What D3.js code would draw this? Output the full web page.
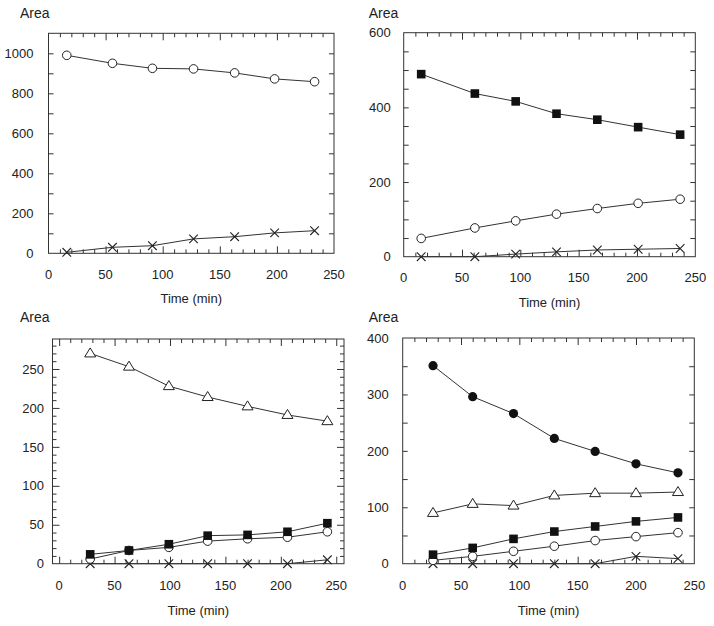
<!DOCTYPE html>
<html>
<head>
<meta charset="utf-8">
<script src="https://cdn.jsdelivr.net/npm/d3@7/dist/d3.min.js"></script>
<style>
  body { margin: 0; background: #fff; }
  svg { display: block; }
  text { font-family: "Liberation Sans", Arial, Helvetica, sans-serif; fill: #222; }
</style>
</head>
<body>
<svg id="chart" width="714" height="626"></svg>
<script>
// ---- Data ----
const xLabel = "Time (min)";
const yLabel = "Area";

// Panel A (top-left)
const aTime   = [16, 56, 91, 127, 163, 198, 233];
const aCircle = [990, 950, 925, 922, 902, 872, 858];
const aCross  = [5, 30, 38, 72, 83, 102, 113];
const aYTicks = [0, 200, 400, 600, 800, 1000];

// Panel B (top-right)
const bTime   = [15, 61, 96, 131, 166, 201, 237];
const bSquare = [489, 437, 416, 383, 367, 347, 327];
const bCircle = [49, 77, 96, 114, 129, 143, 154];
const bCross  = [0, 0, 7, 13, 18, 20, 22];
const bYTicks = [0, 200, 400, 600];

// Panel C (bottom-left)
const cTime     = [28, 63, 99, 134, 170, 206, 242];
const cTriangle = [270, 253, 228, 214, 202, 191, 183];
const cSquare   = [12, 17, 25, 36, 37, 41, 52];
const cCircle   = [6, 17, 21, 29, 32, 34, 41];
const cCross    = [0, 0, 0, 0, 0, 0, 5];
const cYTicks   = [0, 50, 100, 150, 200, 250];

// Panel D (bottom-right)
const dTime     = [26, 60, 95, 130, 165, 200, 236];
const dDot      = [351, 296, 266, 222, 199, 177, 161];
const dTriangle = [90, 106, 103, 121, 125, 125, 127];
const dSquare   = [16, 28, 44, 57, 66, 75, 82];
const dCircle   = [6, 13, 22, 31, 41, 48, 55];
const dCross    = [0, 0, 0, 0, 0, 13, 9];
const dYTicks   = [0, 100, 200, 300, 400];

const xTicks = [0, 50, 100, 150, 200, 250];

// ---- Layout ----
const panels = [
  { left: 48.5, right: 334, top: 33.3, bottom: 253.3, xDom: [0, 250], yDom: [0, 1100],
    yTicks: aYTicks, yMinorStep: 100, yMajorStep: null, yLabelGap: 15,
    time: aTime, series: [{v: aCross, m: "cross"}, {v: aCircle, m: "circle"}],
    areaX: 20, areaY: 18, xLabY: 279, titleY: 303 },
  { left: 403.7, right: 695.3, top: 32.7, bottom: 256.7, xDom: [0, 250], yDom: [0, 600],
    yTicks: bYTicks, yMinorStep: 50, yMajorStep: null, yLabelGap: 13,
    time: bTime, series: [{v: bCross, m: "cross"}, {v: bCircle, m: "circle"}, {v: bSquare, m: "square"}],
    areaX: 368.7, areaY: 17.5, xLabY: 282, titleY: 307 },
  { left: 52.5, right: 344, top: 339, bottom: 563.7, xDom: [-6, 257], yDom: [0, 288.5],
    yTicks: cYTicks, yMinorStep: 10, yMajorStep: 50, yLabelGap: 8.5,
    time: cTime, series: [{v: cCross, m: "cross"}, {v: cCircle, m: "circle"}, {v: cSquare, m: "square"}, {v: cTriangle, m: "triangle"}],
    areaX: 20, areaY: 322, xLabY: 590, titleY: 614.5 },
  { left: 402.7, right: 694.3, top: 338, bottom: 563.7, xDom: [0, 250], yDom: [0, 400],
    yTicks: dYTicks, yMinorStep: 50, yMajorStep: null, yLabelGap: 14,
    time: dTime, series: [{v: dCross, m: "cross"}, {v: dCircle, m: "circle"}, {v: dSquare, m: "square"}, {v: dTriangle, m: "triangle"}, {v: dDot, m: "dot"}],
    areaX: 368.7, areaY: 322, xLabY: 590, titleY: 614.5 }
];

const svg = d3.select("#chart");
const ink = "#222";

function range(a, b, step) { const r = []; for (let v = a; v <= b + 1e-9; v += step) r.push(+v.toFixed(6)); return r; }

panels.forEach(p => {
  const x = d3.scaleLinear().domain(p.xDom).range([p.left, p.right]);
  const y = d3.scaleLinear().domain(p.yDom).range([p.bottom, p.top]);
  const g = svg.append("g");

  // frame
  g.append("rect").attr("x", p.left).attr("y", p.top)
    .attr("width", p.right - p.left).attr("height", p.bottom - p.top)
    .attr("fill", "none").attr("stroke", "#333").attr("stroke-width", 1);

  // x ticks (inward, bottom and top): minor every 10, major every 50
  const xMinor = range(Math.ceil(p.xDom[0] / 10) * 10, p.xDom[1], 10).filter(v => v % 50 !== 0 && v > p.xDom[0] && v < p.xDom[1]);
  const xMajor = xTicks.filter(v => v > p.xDom[0] && v < p.xDom[1]);
  const tickStyle = sel => { sel.select(".domain").remove(); sel.selectAll("line").attr("stroke", "#333"); };

  g.append("g").attr("transform", `translate(0,${p.bottom})`)
    .call(d3.axisBottom(x).tickValues(xMinor).tickSize(-4).tickFormat(""))
    .call(tickStyle);
  g.append("g").attr("transform", `translate(0,${p.bottom})`)
    .call(d3.axisBottom(x).tickValues(xMajor).tickSize(-7).tickFormat(""))
    .call(tickStyle);
  g.append("g").attr("transform", `translate(0,${p.top})`)
    .call(d3.axisTop(x).tickValues(xMinor).tickSize(-4).tickFormat(""))
    .call(tickStyle);
  g.append("g").attr("transform", `translate(0,${p.top})`)
    .call(d3.axisTop(x).tickValues(xMajor).tickSize(-7).tickFormat(""))
    .call(tickStyle);

  // x labels
  g.selectAll(".xl").data(xTicks).enter().append("text")
    .attr("x", d => x(d)).attr("y", p.xLabY)
    .attr("text-anchor", "middle").attr("font-size", 13).text(d => d);

  // y ticks (inward, left and right)
  const yAll = range(p.yDom[0], p.yDom[1], p.yMinorStep).filter(v => v > p.yDom[0] && v < p.yDom[1]);
  const yMaj = p.yMajorStep ? yAll.filter(v => v % p.yMajorStep === 0) : yAll;
  const yMin = p.yMajorStep ? yAll.filter(v => v % p.yMajorStep !== 0) : [];
  const minorLen = 4, majorLen = p.yMajorStep ? 7 : 5;
  [[d3.axisLeft, p.left], [d3.axisRight, p.right]].forEach(([ax, pos]) => {
    g.append("g").attr("transform", `translate(${pos},0)`)
      .call(ax(y).tickValues(yMaj).tickSize(-majorLen).tickFormat("")).call(tickStyle);
    if (yMin.length)
      g.append("g").attr("transform", `translate(${pos},0)`)
        .call(ax(y).tickValues(yMin).tickSize(-minorLen).tickFormat("")).call(tickStyle);
  });

  // y labels
  g.selectAll(".yl").data(p.yTicks).enter().append("text")
    .attr("x", p.left - p.yLabelGap).attr("y", d => y(d)).attr("dy", "0.36em")
    .attr("text-anchor", "end").attr("font-size", 13).text(d => d);

  // axis titles
  g.append("text").attr("x", p.areaX).attr("y", p.areaY).attr("font-size", 14).text(yLabel);
  g.append("text").attr("x", (p.left + p.right) / 2).attr("y", p.titleY)
    .attr("text-anchor", "middle").attr("font-size", 13).text(xLabel);

  // series lines
  const line = d3.line().x(d => x(d[0])).y(d => y(d[1]));
  p.series.forEach(s => {
    const pts = p.time.map((t, i) => [t, s.v[i]]);
    g.append("path").datum(pts).attr("d", line)
      .attr("fill", "none").attr("stroke", "#333").attr("stroke-width", 1);
  });

  // markers
  p.series.forEach(s => {
    const pts = p.time.map((t, i) => [t, s.v[i]]);
    const mg = g.append("g");
    pts.forEach(d => {
      const cx = x(d[0]), cy = y(d[1]);
      if (s.m === "circle") {
        mg.append("circle").attr("cx", cx).attr("cy", cy).attr("r", 4.3)
          .attr("fill", "#fff").attr("stroke", ink).attr("stroke-width", 1);
      } else if (s.m === "dot") {
        mg.append("circle").attr("cx", cx).attr("cy", cy).attr("r", 4.6).attr("fill", "#111");
      } else if (s.m === "square") {
        mg.append("rect").attr("x", cx - 4.3).attr("y", cy - 4.3).attr("width", 8.6).attr("height", 8.6).attr("fill", "#111");
      } else if (s.m === "triangle") {
        mg.append("path").attr("d", `M${cx},${cy - 5.5}L${cx + 5.5},${cy + 3.5}L${cx - 5.5},${cy + 3.5}Z`)
          .attr("fill", "#fff").attr("stroke", ink).attr("stroke-width", 1);
      } else if (s.m === "cross") {
        const r = 4.3;
        mg.append("path").attr("d", `M${cx - r},${cy - r}L${cx + r},${cy + r}M${cx - r},${cy + r}L${cx + r},${cy - r}`)
          .attr("stroke", ink).attr("stroke-width", 1.1).attr("fill", "none");
      }
    });
  });
});
</script>
</body>
</html>
